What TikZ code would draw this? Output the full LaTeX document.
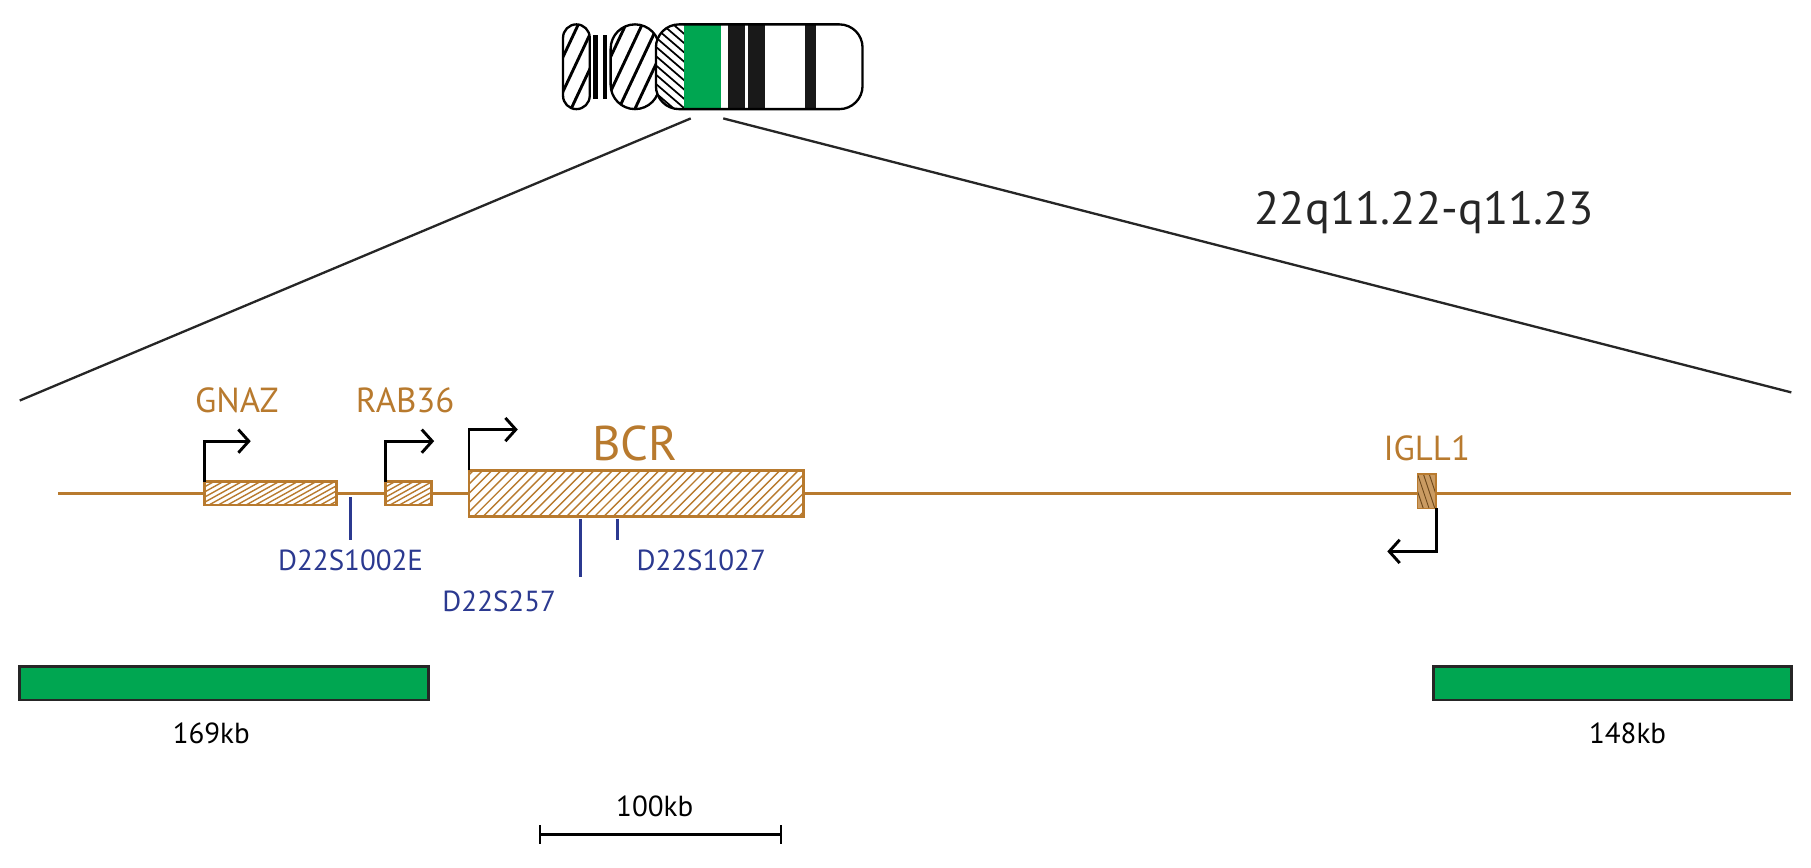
\documentclass[tikz,border=0pt]{standalone}
\usepackage{fontspec}
\setmainfont{PT Sans}
\usetikzlibrary{arrows.meta}
\definecolor{genec}{HTML}{B87A2E}
\definecolor{navy}{HTML}{2B3990}
\definecolor{ggreen}{HTML}{00A651}
\begin{document}
\begin{tikzpicture}[x=1pt,y=-1pt,
  gene/.style={draw=genec,line width=2.5pt},
  arr/.style={line width=2.5pt,-{Straight Barb[length=9pt,width=20pt]}},
  mk/.style={draw=navy,line width=2.5pt},
  glab/.style={text=genec,font=\fontsize{30}{30}\selectfont},
  mlab/.style={text=navy,font=\fontsize{25}{25}\selectfont},
  klab/.style={font=\fontsize{25}{25}\selectfont},
  gbar/.style={fill=ggreen,draw=black!85,line width=2.5pt}]
\useasboundingbox (0,0) rectangle (1560,747);
% chromosome
\begin{scope}[line width=2pt]
 \begin{scope}\clip[rounded corners=11.5pt] (485,21) rectangle (508,94);
  \foreach \i in {-80,-66,...,60} \draw[line width=2.5pt] (485+\i,100) -- (525+\i,15);\end{scope}
 \draw[rounded corners=11.5pt] (485,21) rectangle (508,94);
 \fill (511,30) rectangle (515,85);
 \fill (519,30) rectangle (523,85);
 \begin{scope}\clip[rounded corners=21pt] (526,21) rectangle (568,94);
  \foreach \i in {-80,-66,...,60} \draw[line width=2.5pt] (526+\i,100) -- (566+\i,15);\end{scope}
 \draw[rounded corners=21pt] (526,21) rectangle (568,94);
 \begin{scope}\clip[rounded corners=20pt] (565,21) rectangle (650,94);
  \clip (560,15) rectangle (589,100);
  \fill[white] (560,15) rectangle (589,100);
  \foreach \i in {-20,-12,...,90} \draw[line width=1.5pt] (560,\i) -- (595,\i+30);\end{scope}
 \fill[ggreen] (589,20) rectangle (621,95);
 \fill[black!90] (627,21) rectangle (642,94);
 \fill[black!90] (644,21) rectangle (659,94);
 \fill[black!90] (693,21) rectangle (703,94);
 \draw[rounded corners=20pt] (565,21) rectangle (743,94);
\end{scope}
\coordinate (cl) at (595,102); \coordinate (cr) at (623,102);
\coordinate (zl) at (17,345); \coordinate (zr) at (1543,338);
\draw[line width=2pt,black!85] (cl) -- (zl) (cr) -- (zr);
\node[font=\fontsize{40}{40}\selectfont,text=black!85] (title) at (1227,183) {22q11.22-q11.23};
% gene line
\coordinate (gl) at (50,425); \coordinate (gr) at (1543,425);
\draw[genec,line width=2.5pt] (gl) -- (gr);
\foreach \xa/\ya/\xb/\yb/\n in {176/415/290/435/gnaz,332/415/372/435/rab,404/405/692/445/bcr}{
  \fill[white] (\xa,\ya) rectangle (\xb,\yb);
  \begin{scope}\clip (\xa,\ya) rectangle (\xb,\yb);
   \foreach \i in {-60,-52,...,700} \draw[genec,line width=1.2pt] (\xa+\i,\yb) -- (\xa+\i+45,\ya-5);
  \end{scope}
  \draw[gene] (\xa,\ya) rectangle (\xb,\yb) node[coordinate] (\n) {};
}
\fill[genec!75] (1221,408) rectangle (1237,438);
\begin{scope}\clip (1221,408) rectangle (1237,438);
 \foreach \i in {-20,-15,...,30} \draw[genec!60!black,line width=0.8pt] (1221+\i,408) -- (1231+\i,438);\end{scope}
\draw[genec,line width=1.5pt] (1221,408) rectangle (1237,438);
% promoters
\coordinate (p1) at (176,415); \coordinate (p2) at (332,415); \coordinate (p3) at (404,405); \coordinate (p4) at (1237,438);
\draw[arr] (p1) |- (216,380);
\draw[arr] (p2) |- (374,380);
\draw[arr] (p3) |- (446,370);
\draw[arr] (p4) |- (1195,475);
% labels
\node[glab] (lg) at (204,345) {GNAZ};
\node[glab] (lr) at (349,345) {RAB36};
\node[glab,font=\fontsize{42}{42}\selectfont] (lb) at (547,382) {BCR};
\node[glab] (li) at (1229,386) {IGLL1};
% markers
\draw[mk] (302,428) -- (302,465);
\draw[mk] (500,447) -- (500,497);
\draw[mk] (532,447) -- (532,465);
\node[mlab] (m1) at (302,483) {D22S1002E};
\node[mlab] (m2) at (430,518) {D22S257};
\node[mlab] (m3) at (604,483) {D22S1027};
% green bars
\draw[gbar] (17,574) rectangle (369,603);
\draw[gbar] (1235,574) rectangle (1543,603);
\node[klab] (k1) at (182,632) {169kb};
\node[klab] (k2) at (1402,632) {148kb};
% scale
\draw[line width=2.5pt] (465,719) -- (673,719);
\draw[line width=2pt] (465,711) -- (465,727) (673,711) -- (673,727);
\node[klab] (s) at (564,695) {100kb};
\end{tikzpicture}
\end{document}
